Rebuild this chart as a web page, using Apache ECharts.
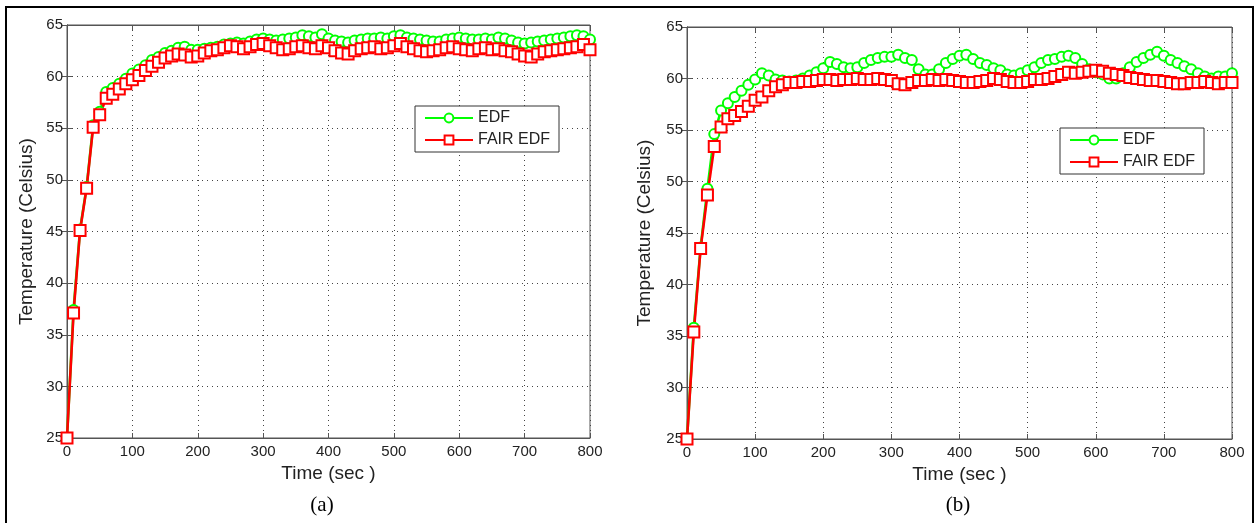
<!DOCTYPE html>
<html>
<head>
<meta charset="utf-8">
<title>EDF vs FAIR EDF temperature</title>
<script src="https://cdn.jsdelivr.net/npm/echarts@6/dist/echarts.min.js"></script>
<style>
    html, body { margin: 0; padding: 0; background: #fff; }
    #chart { width: 1256px; height: 523px; }
</style>
</head>
<body>
<div id="chart"></div>
<script>
// time samples (sec)
const times = [0, 10, 20, 30, 40, 50, 60, 70, 80, 90, 100, 110, 120, 130, 140, 150, 160, 170, 180, 190,
    200, 210, 220, 230, 240, 250, 260, 270, 280, 290, 300, 310, 320, 330, 340, 350, 360, 370, 380, 390,
    400, 410, 420, 430, 440, 450, 460, 470, 480, 490, 500, 510, 520, 530, 540, 550, 560, 570, 580, 590,
    600, 610, 620, 630, 640, 650, 660, 670, 680, 690, 700, 710, 720, 730, 740, 750, 760, 770, 780, 790, 800];

// panel (a)
const edfA = [25, 37.4, 45.2, 49.3, 55.3, 56.6, 58.5, 58.9, 59.3, 59.8, 60.3, 60.7, 61.1, 61.6, 61.9, 62.3, 62.5, 62.8, 62.9, 62.6,
    62.6, 62.7, 62.8, 62.9, 63.1, 63.2, 63.3, 63.2, 63.4, 63.6, 63.7, 63.6, 63.5, 63.6, 63.7, 63.8, 64.0, 63.9, 63.8, 64.1,
    63.7, 63.5, 63.4, 63.3, 63.5, 63.6, 63.7, 63.7, 63.8, 63.7, 63.9, 64.0, 63.8, 63.7, 63.6, 63.5, 63.4, 63.4, 63.6, 63.7,
    63.8, 63.7, 63.6, 63.6, 63.7, 63.6, 63.8, 63.7, 63.5, 63.3, 63.2, 63.3, 63.4, 63.5, 63.6, 63.7, 63.8, 63.9, 64.0, 63.9, 63.6];
const fairA = [25, 37.1, 45.1, 49.2, 55.1, 56.3, 57.9, 58.3, 58.8, 59.3, 59.7, 60.1, 60.6, 61.0, 61.4, 61.8, 62.0, 62.2, 62.1, 61.9,
    62.0, 62.3, 62.5, 62.6, 62.8, 63.0, 62.9, 62.7, 62.9, 63.1, 63.2, 63.0, 62.8, 62.6, 62.7, 62.9, 63.0, 62.8, 62.7, 63.0,
    62.8, 62.5, 62.3, 62.2, 62.5, 62.7, 62.8, 62.9, 62.7, 62.8, 63.0, 63.2, 62.9, 62.7, 62.5, 62.4, 62.5, 62.6, 62.8, 62.9,
    62.7, 62.6, 62.5, 62.7, 62.8, 62.6, 62.7, 62.5, 62.4, 62.2, 62.0, 61.9, 62.2, 62.4, 62.5, 62.6, 62.7, 62.8, 62.9, 63.1, 62.6];

// panel (b)
const edfB = [25, 35.8, 43.6, 49.3, 54.6, 56.9, 57.6, 58.2, 58.8, 59.4, 59.9, 60.5, 60.3, 59.9, 59.8, 59.7, 59.8, 60.0, 60.3, 60.6,
    61.0, 61.6, 61.4, 61.1, 61.0, 61.1, 61.5, 61.8, 62.0, 62.1, 62.1, 62.3, 62.0, 61.8, 60.9, 60.4, 60.4, 60.9, 61.5, 61.9,
    62.2, 62.3, 61.9, 61.5, 61.3, 61.0, 60.8, 60.4, 60.3, 60.5, 60.8, 61.1, 61.5, 61.8, 61.9, 62.1, 62.2, 62.0, 61.4, 60.9,
    60.6, 60.4, 60.0, 60.0, 60.5, 61.1, 61.6, 62.0, 62.3, 62.6, 62.2, 61.8, 61.5, 61.2, 60.9, 60.5, 60.2, 60.0, 60.2, 60.2, 60.5];
const fairB = [25, 35.4, 43.5, 48.7, 53.4, 55.3, 56.1, 56.4, 56.8, 57.3, 57.9, 58.2, 58.8, 59.2, 59.4, 59.6, 59.6, 59.7, 59.7, 59.8,
    59.9, 59.9, 59.8, 59.9, 59.9, 60.0, 59.9, 59.9, 60.0, 59.9, 59.8, 59.5, 59.4, 59.6, 59.8, 59.8, 59.9, 59.8, 59.9, 59.8,
    59.7, 59.6, 59.6, 59.7, 59.8, 60.0, 59.9, 59.7, 59.6, 59.6, 59.7, 59.9, 59.9, 60.0, 60.2, 60.4, 60.6, 60.5, 60.6, 60.7,
    60.8, 60.7, 60.5, 60.4, 60.3, 60.1, 60.0, 59.9, 59.8, 59.8, 59.7, 59.6, 59.5, 59.5, 59.6, 59.6, 59.7, 59.6, 59.5, 59.6, 59.6];

const xTicks = { min: 0, max: 800, interval: 100 };
const yTicks = { min: 25, max: 65, interval: 5 };
const legendNames = ['EDF', 'FAIR EDF'];

const pair = (vals) => times.map((t, i) => [t, vals[i]]);

const axisColor = '#555';
const labelColor = '#222';
const font = 'Liberation Sans';

const gridLine = { show: true, lineStyle: { color: '#444', type: [1, 4], width: 1 } };

// bottom x axis + blank top x axis (matlab box ticks)
const makeX = (gi) => [
    {
        gridIndex: gi, type: 'value', position: 'bottom', ...xTicks,
        name: 'Time (sec )', nameLocation: 'middle', nameGap: 24,
        nameTextStyle: { fontSize: 19, color: labelColor, fontFamily: font },
        axisLine: { show: true, lineStyle: { color: axisColor } },
        axisTick: { show: true, inside: true, length: 5, lineStyle: { color: axisColor } },
        axisLabel: { fontSize: 15, color: labelColor, fontFamily: font, margin: 6 },
        splitLine: gridLine
    },
    {
        gridIndex: gi, type: 'value', position: 'top', ...xTicks,
        axisLine: { show: true, lineStyle: { color: axisColor } },
        axisTick: { show: true, inside: true, length: 5, lineStyle: { color: axisColor } },
        axisLabel: { show: false }, splitLine: { show: false }
    }
];
const makeY = (gi, gap) => [
    {
        gridIndex: gi, type: 'value', position: 'left', ...yTicks,
        name: 'Temperature (Celsius)', nameLocation: 'middle', nameGap: gap,
        nameTextStyle: { fontSize: 19, color: labelColor, fontFamily: font },
        axisLine: { show: true, lineStyle: { color: axisColor } },
        axisTick: { show: true, inside: true, length: 5, lineStyle: { color: axisColor } },
        axisLabel: { fontSize: 15, color: labelColor, fontFamily: font, margin: 4 },
        splitLine: gridLine
    },
    {
        gridIndex: gi, type: 'value', position: 'right', ...yTicks,
        axisLine: { show: true, lineStyle: { color: axisColor } },
        axisTick: { show: true, inside: true, length: 5, lineStyle: { color: axisColor } },
        axisLabel: { show: false }, splitLine: { show: false }
    }
];

const edfStyle = {
    type: 'line', symbol: 'emptyCircle', symbolSize: 10,
    lineStyle: { color: '#00ff00', width: 2.6 },
    itemStyle: { color: '#00ff00', borderWidth: 2.2 }
};
const fairStyle = {
    type: 'line', symbol: 'emptyRect', symbolSize: 11,
    lineStyle: { color: '#ff0000', width: 2.6 },
    itemStyle: { color: '#ff0000', borderWidth: 2.6 }
};

const makeLegend = (left, top) => ({
    data: legendNames, orient: 'vertical', left: left, top: top,
    itemWidth: 48, itemHeight: 11, itemGap: 6,
    padding: [4, 9, 4, 9],
    backgroundColor: '#fff', borderColor: '#333', borderWidth: 1,
    textStyle: { fontSize: 16, color: labelColor, fontFamily: font },
    selectedMode: false
});

const option = {
    animation: false,
    backgroundColor: '#fff',
    grid: [
        { left: 67, top: 25, width: 523, height: 413, show: true, borderColor: axisColor, borderWidth: 1, backgroundColor: 'transparent' },
        { left: 687, top: 27, width: 545, height: 412, show: true, borderColor: axisColor, borderWidth: 1, backgroundColor: 'transparent' }
    ],
    xAxis: [...makeX(0), ...makeX(1)],
    yAxis: [...makeY(0, 31), ...makeY(1, 33)],
    legend: [makeLegend(415, 106), makeLegend(1060, 128)],
    series: [
        { name: 'EDF', ...edfStyle, xAxisIndex: 0, yAxisIndex: 0, data: pair(edfA) },
        { name: 'FAIR EDF', ...fairStyle, xAxisIndex: 0, yAxisIndex: 0, data: pair(fairA) },
        { name: 'EDF', ...edfStyle, xAxisIndex: 2, yAxisIndex: 2, data: pair(edfB) },
        { name: 'FAIR EDF', ...fairStyle, xAxisIndex: 2, yAxisIndex: 2, data: pair(fairB) }
    ],
    graphic: [
        // outer frame
        { type: 'rect', silent: true, shape: { x: 6, y: 7, width: 1247, height: 530 },
          style: { fill: null, stroke: '#000', lineWidth: 2 } },
        { type: 'text', silent: true, x: 322, y: 505,
          style: { text: '(a)', fontSize: 21, fontFamily: 'Liberation Serif', fill: '#000', align: 'center', verticalAlign: 'middle' } },
        { type: 'text', silent: true, x: 958, y: 505,
          style: { text: '(b)', fontSize: 21, fontFamily: 'Liberation Serif', fill: '#000', align: 'center', verticalAlign: 'middle' } }
    ]
};

const myChart = echarts.init(document.getElementById('chart'));
myChart.setOption(option);
</script>
</body>
</html>
